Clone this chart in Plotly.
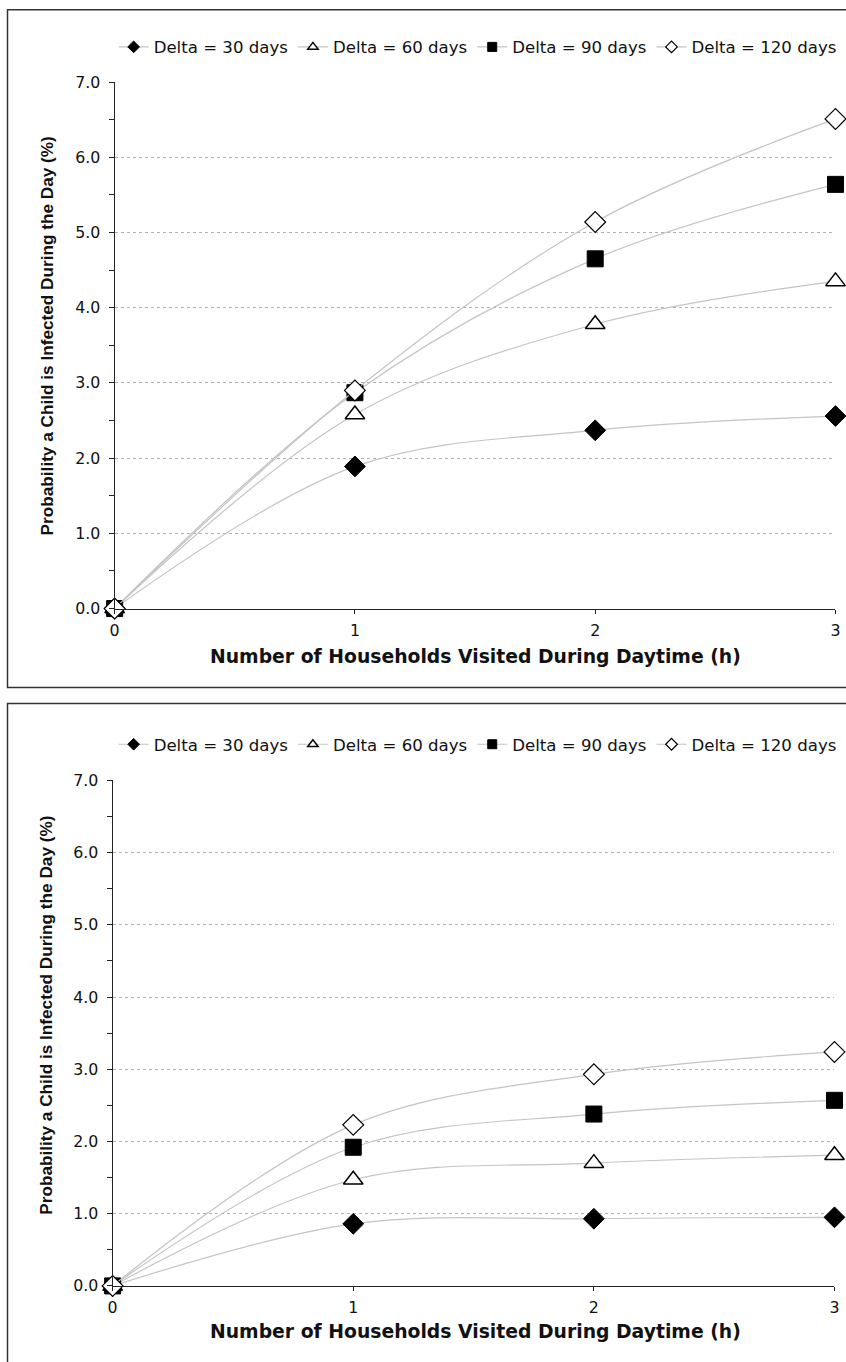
import plotly.graph_objects as go

W, H = 846, 1362

households = [0, 1, 2, 3]
series_names = ["Delta = 30 days", "Delta = 60 days", "Delta = 90 days", "Delta = 120 days"]

top_30 = [0.0, 1.89, 2.37, 2.56]
top_60 = [0.0, 2.58, 3.78, 4.35]
top_90 = [0.0, 2.87, 4.65, 5.64]
top_120 = [0.0, 2.90, 5.14, 6.51]

bot_30 = [0.0, 0.86, 0.93, 0.95]
bot_60 = [0.0, 1.47, 1.70, 1.81]
bot_90 = [0.0, 1.92, 2.38, 2.57]
bot_120 = [0.0, 2.23, 2.93, 3.24]

y_ticks = [0, 1, 2, 3, 4, 5, 6, 7]
y_tick_labels = ["0.0", "1.0", "2.0", "3.0", "4.0", "5.0", "6.0", "7.0"]
x_ticks = [0, 1, 2, 3]

x_title = "Number of Households Visited During Daytime (h)"
y_title = "Probability a Child is Infected During the Day (%)"

styles = [
    dict(symbol="diamond", color="black", line=dict(color="black", width=1)),
    dict(symbol="triangle-up", color="white", line=dict(color="black", width=1.5)),
    dict(symbol="square", color="black", line=dict(color="black", width=1)),
    dict(symbol="diamond", color="white", line=dict(color="black", width=1.2)),
]
sizes = [16, 17, 16, 16]
LINE = "#c4c4c4"

K = 0.987  # observed photo scale about page centre


def px_x(p):
    page = W / 2 + (p - W / 2) / K
    return page / W


def px_y(p):
    page = H / 2 + (p - H / 2) / K
    return 1 - page / H


fig = go.Figure()

panels = [
    dict(data=[top_30, top_60, top_90, top_120], xa="x", ya="y", legend="legend"),
    dict(data=[bot_30, bot_60, bot_90, bot_120], xa="x2", ya="y2", legend="legend2"),
]

for p in panels:
    for i, (name, vals) in enumerate(zip(series_names, p["data"])):
        fig.add_trace(go.Scatter(
            x=households, y=vals, xaxis=p["xa"], yaxis=p["ya"],
            mode="lines+markers", line=dict(color=LINE, width=1.2, shape="spline", smoothing=1.0),
            marker=dict(size=sizes[i], **styles[i]), cliponaxis=False, showlegend=False,
            hoverinfo="x+y",
        ))
    for i, name in enumerate(series_names):
        fig.add_trace(go.Scatter(
            x=[None], y=[None], xaxis=p["xa"], yaxis=p["ya"], name=name,
            mode="lines+markers", line=dict(color=LINE, width=1.2),
            marker=dict(size=9, **styles[i]), legend=p["legend"], showlegend=True,
        ))

axis_font = dict(family="DejaVu Sans", size=15.8, color="#111")


def yaxis(domain, anchor):
    return dict(
        domain=domain, range=[0, 7], tickvals=y_ticks, ticktext=y_tick_labels,
        showline=True, linecolor="#222", linewidth=1.2, ticks="outside", ticklen=5,
        tickcolor="#222", tickfont=axis_font, showgrid=True, gridcolor="#b0b0b0",
        griddash="3px,3px", gridwidth=1, zeroline=False, ticklabelstandoff=5,
        minor=dict(dtick=0.5, ticks="outside", ticklen=5, tickcolor="#222", showgrid=False),
        fixedrange=True, anchor=anchor,
    )


def xaxis(domain, anchor):
    return dict(
        domain=domain, range=[0, 3], tickvals=x_ticks, showline=True, linecolor="#222",
        linewidth=1.2, ticks="outside", ticklen=4, tickcolor="#222", tickfont=axis_font,
        showgrid=False, zeroline=False, anchor=anchor, fixedrange=True, ticklabelstandoff=3,
    )


legend_common = dict(
    orientation="h", xanchor="left", yanchor="middle", bgcolor="rgba(0,0,0,0)",
    font=dict(family="DejaVu Sans", size=16.6, color="#111"), itemwidth=30,
    tracegroupgap=0,
)

fig.update_layout(
    width=W, height=H, margin=dict(l=0, r=0, t=0, b=0),
    paper_bgcolor="white", plot_bgcolor="white",
    xaxis=xaxis([px_x(115), px_x(835)], "y"),
    yaxis=yaxis([px_y(609), px_y(82)], "x"),
    xaxis2=xaxis([px_x(113), px_x(834)], "y2"),
    yaxis2=yaxis([px_y(1287), px_y(781)], "x2"),
    legend=dict(x=px_x(114), y=px_y(47), **legend_common),
    legend2=dict(x=px_x(114), y=px_y(745), **legend_common),
    showlegend=True,
)

shapes = [
    dict(type="rect", xref="paper", yref="paper", x0=px_x(8), x1=1.02, y0=px_y(688),
         y1=min(px_y(7), 0.9995),
         line=dict(color="#333", width=1.5), fillcolor="rgba(0,0,0,0)", layer="below"),
    dict(type="rect", xref="paper", yref="paper", x0=px_x(8), x1=1.02, y0=-0.02, y1=px_y(704),
         line=dict(color="#333", width=1.5), fillcolor="rgba(0,0,0,0)", layer="below"),
]
fig.update_layout(shapes=shapes)

annotations = []
for xt_y, yt_y in [(657, 336), (1333, 1016)]:
    annotations.append(dict(
        text=x_title, xref="paper", yref="paper", x=px_x(475), y=px_y(xt_y),
        xanchor="center", yanchor="middle", showarrow=False,
        font=dict(family="DejaVu Sans", size=18.8, color="#111", weight="bold"),
    ))
    annotations.append(dict(
        text=y_title, xref="paper", yref="paper", x=px_x(47), y=px_y(yt_y),
        xanchor="center", yanchor="middle", showarrow=False, textangle=-90,
        font=dict(family="Liberation Sans", size=17.2, color="#111", weight="bold"),
    ))
fig.update_layout(annotations=annotations)

post = (
    "document.documentElement.style.margin='0';"
    "document.documentElement.style.padding='0';"
    "document.documentElement.style.overflow='hidden';"
    "document.body.style.margin='0';"
    "document.body.style.padding='0';"
    "document.body.style.overflow='hidden';"
    "var d=document.getElementById('{plot_id}');"
    "d.style.position='fixed';d.style.top='0px';d.style.left='0px';"
)

fig.write_html(
    "out.html",
    config={"displayModeBar": False},
    post_script=post,
)
